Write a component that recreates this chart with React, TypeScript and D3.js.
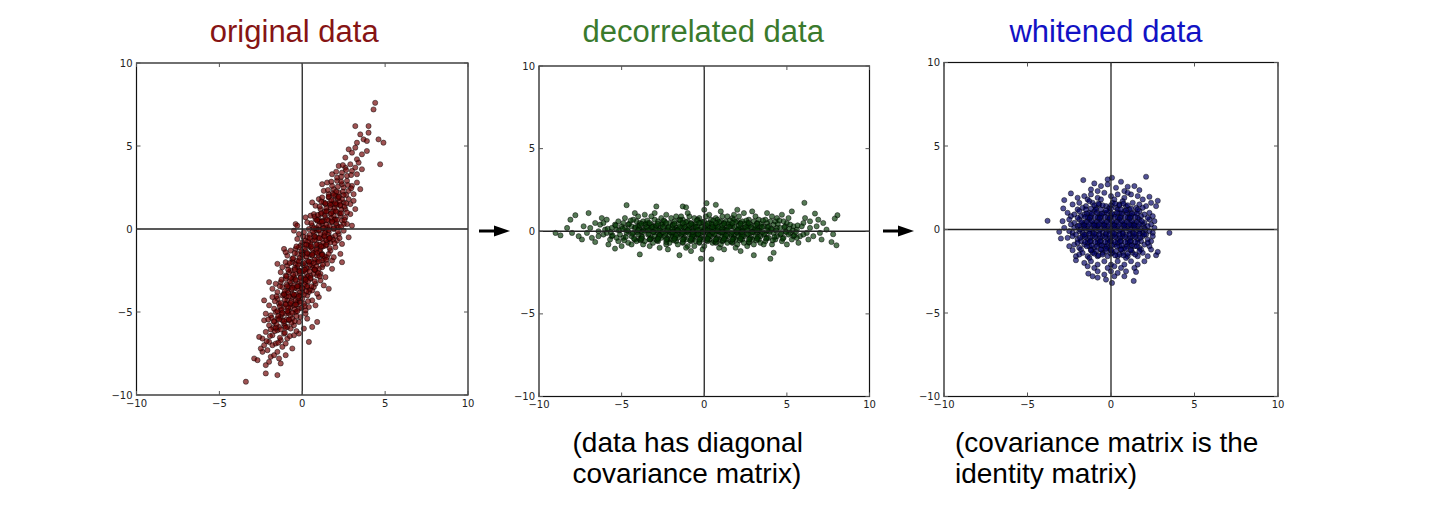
import React from 'react';
import * as d3 from 'd3';

// tick values shared by all three panels
const axisTicks = [-10, -5, 0, 5, 10];

const originalPoints: [number, number][] = [
  [-3.4,-9.2],[-2.2,-8.7],[-1.5,-8.8],[-1.3,-8.1],[-2.2,-8.2],[-2.9,-7.8],[-2.7,-7.9],[-2.4,-7.4],[-2.1,-7.3],[-1.9,-7.7],
  [-1.7,-7.6],[-1.5,-7.4],[-1.2,-7.1],[-2.5,-7.2],[-1.8,-7.0],[-0.6,-7.2],[-1.0,-7.6],[-2.3,-7.0],[-1.4,-7.8],[-2.0,-8.0],
  [-2.4,-6.6],[-2.0,-6.8],[-1.6,-6.9],[-1.3,-6.7],[-0.9,-6.6],[-0.5,-6.4],[-2.2,-6.2],[-1.8,-6.4],[-1.5,-6.1],[-1.1,-6.3],
  [-0.7,-6.0],[-0.2,-6.3],[0.4,-6.8],[-2.6,-6.5],[-1.0,-6.9],[0.1,-6.0],
  [-2.3,-5.5],[-2.0,-5.8],[-1.7,-5.6],[-1.4,-5.9],[-1.1,-5.7],[-0.8,-5.5],[-0.5,-5.8],[-0.2,-5.6],[0.3,-5.4],[0.6,-5.9],
  [-1.9,-5.2],[-1.6,-5.0],[-1.3,-5.3],[-1.0,-5.1],[-0.7,-5.2],[-0.4,-5.0],[-0.1,-5.3],[0.2,-5.1],[-2.2,-5.1],[-1.2,-5.5],
  [-0.6,-5.4],[0.9,-5.6],[-0.9,-5.9],[-1.5,-5.4],
  [-2.0,-4.6],[-1.7,-4.8],[-1.4,-4.5],[-1.1,-4.7],[-0.8,-4.9],[-0.5,-4.6],[-0.2,-4.8],[0.1,-4.5],[0.4,-4.7],[-1.5,-4.2],
  [-1.2,-4.0],[-0.9,-4.3],[-0.6,-4.1],[-0.3,-4.4],[0.0,-4.2],[0.3,-4.0],[0.6,-4.3],[-1.8,-4.1],[-1.0,-4.5],[-0.4,-4.3],
  [-0.7,-4.7],[-0.1,-4.0],[0.8,-4.6],[-2.3,-4.3],[-1.3,-4.9],[0.2,-4.9],[1.0,-4.1],[-0.5,-4.0],
  [-1.8,-3.6],[-1.5,-3.8],[-1.2,-3.5],[-0.9,-3.7],[-0.6,-3.9],[-0.3,-3.6],[0.0,-3.8],[0.3,-3.5],[0.6,-3.7],[0.9,-3.9],
  [-1.3,-3.2],[-1.0,-3.0],[-0.7,-3.3],[-0.4,-3.1],[-0.1,-3.4],[0.2,-3.2],[0.5,-3.0],[0.8,-3.3],[1.1,-3.1],[-1.6,-3.3],
  [-0.8,-3.5],[-0.2,-3.3],[0.4,-3.8],[-0.5,-3.4],[0.1,-3.0],[0.7,-3.5],[-1.1,-3.9],[1.3,-3.4],[-2.0,-3.2],[0.0,-3.6],
  [-0.6,-3.0],[1.6,-3.6],
  [-1.3,-2.6],[-1.0,-2.8],[-0.7,-2.5],[-0.4,-2.7],[-0.1,-2.9],[0.2,-2.6],[0.5,-2.8],[0.8,-2.5],[1.1,-2.7],[1.4,-2.9],
  [-0.9,-2.2],[-0.6,-2.0],[-0.3,-2.3],[0.0,-2.1],[0.3,-2.4],[0.6,-2.2],[0.9,-2.0],[1.2,-2.3],[1.5,-2.1],[-1.2,-2.3],
  [-0.2,-2.5],[0.4,-2.0],[0.7,-2.7],[0.1,-2.2],[-0.5,-2.9],[1.0,-2.4],[-0.8,-2.6],[0.3,-2.9],[1.8,-2.4],[-1.5,-2.1],
  [2.4,-2.0],[-0.4,-2.1],[0.9,-2.8],[0.0,-2.5],
  [-0.9,-1.6],[-0.6,-1.8],[-0.3,-1.5],[0.0,-1.7],[0.3,-1.9],[0.6,-1.6],[0.9,-1.8],[1.2,-1.5],[1.5,-1.7],[1.8,-1.9],
  [-0.4,-1.2],[-0.1,-1.0],[0.2,-1.3],[0.5,-1.1],[0.8,-1.4],[1.1,-1.2],[1.4,-1.0],[1.7,-1.3],[2.0,-1.1],[-0.7,-1.3],
  [0.3,-1.5],[0.9,-1.1],[1.3,-1.8],[0.6,-1.2],[0.0,-1.4],[1.6,-1.5],[-0.3,-1.9],[1.0,-1.6],[2.3,-1.5],[-1.1,-1.2],
  [0.4,-1.0],[1.9,-1.7],[-0.2,-1.1],[1.2,-1.9],[-1.0,-1.4],[-1.0,-2.0],
  [-0.3,-0.6],[0.0,-0.8],[0.3,-0.5],[0.6,-0.7],[0.9,-0.9],[1.2,-0.6],[1.5,-0.8],[1.8,-0.5],[2.1,-0.7],[2.4,-0.9],
  [0.1,-0.2],[0.4,0.0],[0.7,-0.3],[1.0,-0.1],[1.3,-0.4],[1.6,-0.2],[1.9,0.0],[2.2,-0.3],[2.5,-0.1],[-0.2,-0.3],
  [0.8,-0.5],[1.4,-0.1],[1.7,-0.8],[1.1,-0.3],[0.5,-0.9],[2.0,-0.4],[-0.5,-0.1],[2.8,-0.5],[0.2,-0.7],[1.6,-0.6],
  [-0.4,0.3],[-0.3,0.2],
  [0.3,0.4],[0.6,0.2],[0.9,0.5],[1.2,0.3],[1.5,0.1],[1.8,0.4],[2.1,0.2],[2.4,0.5],[2.7,0.3],[0.5,0.8],
  [0.8,0.6],[1.1,0.9],[1.4,0.7],[1.7,0.9],[2.0,0.6],[2.3,0.8],[2.6,0.7],[2.9,0.9],[1.0,0.2],[1.6,0.5],
  [2.2,0.1],[0.7,0.9],[1.3,0.5],[1.9,0.8],[3.0,0.2],[0.2,0.7],[2.5,0.3],[1.0,0.6],
  [0.8,1.4],[1.1,1.2],[1.4,1.5],[1.7,1.3],[2.0,1.1],[2.3,1.4],[2.6,1.2],[2.9,1.5],[1.0,1.8],[1.3,1.6],
  [1.6,1.9],[1.9,1.7],[2.2,1.9],[2.5,1.6],[2.8,1.8],[3.1,1.7],[1.5,1.1],[2.1,1.5],[2.7,1.0],[1.2,1.9],
  [3.2,1.2],[0.6,1.6],[2.4,1.8],[1.8,1.5],
  [1.3,2.3],[1.6,2.1],[1.9,2.4],[2.2,2.2],[2.5,2.5],[2.8,2.3],[3.1,2.1],[1.5,2.8],[1.8,2.6],[2.1,2.9],
  [2.4,2.7],[2.7,2.9],[3.0,2.6],[3.3,2.8],[2.0,2.0],[1.2,2.7],[3.5,2.4],
  [1.8,3.3],[2.1,3.1],[2.4,3.4],[2.7,3.2],[3.0,3.5],[3.3,3.3],[2.2,3.8],[2.6,3.7],[2.9,3.9],[3.2,3.7],[3.6,3.6],
  [2.6,4.3],[3.0,4.6],[3.3,4.2],[2.8,4.8],[3.6,4.5],[3.2,4.9],[3.9,4.7],[4.7,3.9],[3.4,4.0],
  [3.5,5.7],[4.0,5.8],[3.7,5.4],[3.9,5.3],[4.6,5.4],[4.9,5.2],[3.3,5.2],
  [3.2,6.2],[4.0,6.2],[4.3,7.2],[4.4,7.6],
  // dense middle of the cloud
  [-1.95,-6.45],[-1.65,-6.15],[-1.35,-6.55],[-1.05,-6.25],[-0.75,-6.45],[-1.45,-6.85],[-2.15,-6.75],[-0.35,-6.15],
  [-1.85,-5.35],[-1.55,-5.75],[-1.25,-5.15],[-0.95,-5.45],[-0.65,-5.65],[-0.35,-5.25],[-1.75,-5.95],[-1.05,-5.85],
  [-0.45,-5.55],[-2.05,-5.45],[-1.45,-5.25],[-0.85,-5.05],
  [-1.65,-4.35],[-1.35,-4.65],[-1.05,-4.25],[-0.75,-4.55],[-0.45,-4.85],[-0.15,-4.35],[0.15,-4.65],[-1.25,-4.85],
  [-0.95,-4.05],[-0.65,-4.35],[-0.35,-4.55],[-0.05,-4.75],[0.35,-4.35],[-1.55,-4.05],[-0.85,-4.75],[-0.25,-4.15],
  [-1.35,-3.45],[-1.05,-3.75],[-0.75,-3.15],[-0.45,-3.55],[-0.15,-3.85],[0.15,-3.35],[0.45,-3.65],[0.75,-3.15],
  [-1.25,-3.05],[-0.95,-3.35],[-0.65,-3.65],[-0.35,-3.95],[-0.05,-3.15],[0.25,-3.75],[0.55,-3.45],[-0.85,-3.85],
  [-0.25,-3.45],[0.35,-3.15],
  [-0.85,-2.45],[-0.55,-2.75],[-0.25,-2.15],[0.05,-2.55],[0.35,-2.85],[0.65,-2.35],[0.95,-2.65],[1.25,-2.15],
  [-0.75,-2.05],[-0.45,-2.35],[-0.15,-2.65],[0.15,-2.95],[0.45,-2.15],[0.75,-2.45],[1.05,-2.85],[-0.95,-2.85],
  [0.25,-2.35],[0.85,-2.25],
  [-0.45,-1.45],[-0.15,-1.75],[0.15,-1.15],[0.45,-1.55],[0.75,-1.85],[1.05,-1.35],[1.35,-1.65],[1.65,-1.15],
  [-0.35,-1.05],[-0.05,-1.35],[0.25,-1.65],[0.55,-1.95],[0.85,-1.25],[1.15,-1.55],[1.45,-1.85],[-0.55,-1.75],
  [0.65,-1.45],[1.25,-1.05],
  [0.05,-0.45],[0.35,-0.75],[0.65,-0.15],[0.95,-0.55],[1.25,-0.85],[1.55,-0.35],[1.85,-0.65],[2.15,-0.15],
  [0.15,-0.95],[0.45,-0.35],[0.75,-0.65],[1.05,-0.95],[1.35,-0.25],[1.65,-0.55],[1.95,-0.85],[2.25,-0.55],
  [0.85,-0.05],[1.45,-0.65],
  [0.55,0.35],[0.85,0.05],[1.15,0.45],[1.45,0.25],[1.75,0.65],[2.05,0.35],[2.35,0.15],[0.75,0.75],
  [1.05,0.45],[1.35,0.85],[1.65,0.15],[1.95,0.55],[2.25,0.95],[2.55,0.55],[1.25,0.05],[0.95,0.85],
  [1.05,1.35],[1.35,1.05],[1.65,1.55],[1.95,1.25],[2.25,1.65],[2.55,1.35],[1.15,1.65],[1.45,1.25],
  [1.75,1.75],[2.05,1.45],[2.35,1.15],[2.65,1.55],[1.85,1.05],[2.15,1.85],
  [1.55,2.35],[1.85,2.15],[2.15,2.55],[2.45,2.25],[2.75,2.65],[1.75,2.85],[2.05,2.25],[2.35,2.85],[2.65,2.05],[2.95,2.45],
  [2.05,3.45],[2.35,3.15],[2.65,3.55],[2.95,3.25],[2.45,3.85],
  // solid core along the main axis
  [-1.9,-6.05],[-1.6,-5.95],[-1.3,-6.05],[-1.0,-5.95],[-1.7,-5.55],[-1.4,-5.45],[-1.1,-5.55],[-0.8,-5.45],
  [-1.5,-4.95],[-1.2,-5.05],[-0.9,-4.95],[-0.6,-5.05],[-0.3,-4.95],
  [-1.3,-4.45],[-1.0,-4.55],[-0.7,-4.45],[-0.4,-4.55],[-0.1,-4.45],
  [-1.1,-3.95],[-0.8,-4.05],[-0.5,-3.95],[-0.2,-4.05],[0.1,-3.95],
  [-0.9,-3.45],[-0.6,-3.55],[-0.3,-3.45],[0.0,-3.55],[0.3,-3.45],
  [-0.7,-2.95],[-0.4,-3.05],[-0.1,-2.95],[0.2,-3.05],[0.5,-2.95],
  [-0.45,-2.45],[-0.15,-2.55],[0.15,-2.45],[0.45,-2.55],[0.75,-2.45],
  [-0.2,-1.95],[0.1,-2.05],[0.4,-1.95],[0.7,-2.05],[1.0,-1.95],
  [0.0,-1.55],[0.3,-1.45],[0.6,-1.55],[0.9,-1.45],[1.2,-1.55],
  [0.25,-0.95],[0.55,-1.05],[0.85,-0.95],[1.15,-1.05],[1.45,-0.95],
  [0.45,-0.55],[0.75,-0.45],[1.05,-0.55],[1.35,-0.45],[1.65,-0.55],
  [0.7,0.05],[1.0,-0.05],[1.3,0.05],[1.6,-0.05],[1.9,0.05],
  [0.9,0.55],[1.2,0.45],[1.5,0.55],[1.8,0.45],[2.1,0.55],
  [1.15,0.95],[1.45,1.05],[1.75,0.95],[2.05,1.05],[2.35,0.95],
  [1.4,1.55],[1.7,1.45],[2.0,1.55],[2.3,1.45],[1.6,1.95],[1.9,2.05],[2.2,1.95],[2.5,2.05],
];

const decorrelatedPoints: [number, number][] = [
  [-9.0,-0.1],[-8.7,-0.25],
  [-8.1,0.7],[-7.8,0.97],[-8.3,0.2],[-7.6,-0.3],[-8.0,-0.1],
  [-7.0,1.1],[-7.3,0.3],[-6.8,-0.4],[-7.1,-0.1],[-6.6,0.5],[-7.4,-0.5],[-6.9,0.2],[-6.6,-0.65],
  [-6.3,0.4],[-6.1,-0.2],[-5.9,0.7],[-5.7,-0.5],[-6.4,-0.3],[-6.0,0.1],[-5.8,-0.8],[-6.2,0.8],[-5.6,0.2],[-6.4,0.0],
  [-5.9,-0.1],[-5.6,-0.3],[-6.1,0.5],
  [-5.4,-1.05],[-5.2,0.6],[-4.9,-0.4],[-5.3,0.1],[-4.7,1.58],[-5.0,0.3],[-4.6,-0.7],[-5.1,-0.2],[-4.8,0.8],[-5.4,0.4],
  [-4.6,0.0],[-5.2,-0.6],[-4.9,0.5],[-4.7,-0.1],[-5.3,-0.4],[-4.8,0.2],[-5.0,-0.9],[-4.6,0.4],
  [-4.4,0.3],[-4.2,-0.5],[-3.9,-1.4],[-4.0,0.9],[-3.7,0.1],[-4.3,-0.1],[-3.6,-0.6],[-4.1,0.6],[-3.8,-0.3],[-4.4,-0.8],
  [-3.6,0.4],[-4.2,0.2],[-3.9,0.5],[-4.0,-0.2],[-3.7,-0.8],[-4.3,0.7],[-3.8,0.0],[-4.1,-0.6],[-3.6,1.0],[-4.4,-0.3],
  [-3.9,-0.5],[-4.2,1.1],[-3.7,0.6],[-4.0,0.3],
  [-3.4,0.2],[-3.2,-0.4],[-2.9,1.5],[-3.0,0.7],[-2.7,-0.2],[-3.3,-0.9],[-2.6,0.4],[-3.1,0.0],[-2.8,-0.6],[-3.4,0.5],
  [-2.6,-0.1],[-3.2,0.9],[-2.9,0.3],[-3.0,-0.3],[-2.7,-1.0],[-3.3,0.1],[-2.8,0.6],[-3.1,-0.7],[-2.6,0.8],[-3.4,-0.2],
  [-2.9,-0.5],[-3.2,0.4],[-2.7,0.1],[-3.0,1.1],[-3.3,-0.5],[-2.8,-0.1],[-3.1,0.3],[-2.6,-0.4],
  [-2.4,0.3],[-2.2,-0.5],[-2.0,0.8],[-1.8,-0.2],[-1.6,0.1],[-2.3,-0.8],[-2.1,0.5],[-1.9,0.0],[-1.7,-0.6],[-1.5,-1.45],
  [-2.4,-0.3],[-2.2,0.2],[-2.0,-0.1],[-1.8,0.6],[-1.6,-0.4],[-2.3,1.0],[-2.1,-0.2],[-1.9,0.4],[-1.7,0.2],[-1.5,0.7],
  [-2.4,0.6],[-2.2,-1.1],[-2.0,-0.5],[-1.8,0.1],[-1.6,-0.8],[-2.3,0.0],[-2.1,-0.7],[-1.9,-0.3],[-1.7,0.9],[-1.5,-0.1],
  [-1.3,1.5],[-1.1,1.45],
  [-1.4,0.2],[-1.2,-0.4],[-1.0,0.6],[-0.8,-0.1],[-0.6,0.3],[-1.3,-0.7],[-1.1,0.0],[-0.9,0.9],[-0.7,-0.5],[-0.5,0.1],
  [-1.4,-0.2],[-1.2,0.4],[-1.0,-0.9],[-0.8,0.5],[-0.6,-0.3],[-1.3,0.7],[-1.1,-0.5],[-0.9,0.2],[-0.7,0.0],[-0.5,-0.6],
  [-1.4,0.9],[-1.2,-0.1],[-1.0,0.1],[-0.8,-0.6],[-0.6,0.8],[-1.3,0.3],[-1.1,-1.0],[-0.9,-0.2],[-0.7,0.4],[-0.5,-0.2],
  [-1.0,1.1],[-0.8,-1.2],[-1.2,0.0],[-0.6,-0.9],
  [-0.4,0.3],[-0.2,-0.4],[0.0,0.6],[0.2,-0.1],[0.4,0.2],[-0.3,-0.7],[-0.1,0.0],[0.1,0.9],[0.3,-0.5],[0.5,0.4],
  [-0.4,-0.2],[-0.2,0.5],[0.0,-0.9],[0.2,0.3],[0.4,-0.3],[-0.3,0.8],[-0.1,-0.5],[0.1,0.1],[0.3,0.0],[0.5,-0.7],
  [-0.4,0.7],[-0.2,-0.1],[0.0,0.2],[0.2,-0.6],[0.4,0.7],[-0.3,0.1],[-0.1,-1.1],[0.1,-0.3],[0.3,0.5],[0.5,-0.1],
  [0.14,1.7],[0.0,1.3],[-0.2,-1.66],[0.44,-1.7],[0.3,1.0],
  [0.6,0.2],[0.8,-0.4],[1.0,0.6],[1.2,-0.1],[1.4,0.3],[0.7,-0.7],[0.9,0.0],[1.1,0.9],[1.3,-0.5],[0.6,0.1],
  [0.8,0.4],[1.0,-0.8],[1.2,0.5],[1.4,-0.3],[0.7,0.8],[0.9,-0.5],[1.1,0.2],[1.3,0.0],[0.6,-0.6],[0.8,0.7],
  [1.0,-0.1],[1.2,0.1],[1.4,-0.7],[0.7,0.3],[0.9,-1.0],[1.1,-0.3],[1.3,0.6],[0.6,-0.2],[0.7,1.6],[1.0,1.2],
  [1.2,-1.1],[0.8,0.0],[1.4,0.9],[1.1,-0.6],
  [1.6,0.3],[1.8,-0.4],[2.0,0.6],[2.2,-0.1],[2.4,0.2],[1.7,-0.7],[1.9,0.0],[2.1,0.9],[2.3,-0.5],[1.6,0.4],
  [1.8,-0.2],[2.0,-0.8],[2.2,0.5],[2.4,-0.3],[1.7,0.8],[1.9,-0.5],[2.1,0.1],[2.3,0.0],[1.6,-0.6],[1.8,0.7],
  [2.0,-0.1],[2.2,0.2],[2.4,-0.7],[1.7,0.3],[1.9,-1.0],[2.1,-0.3],[2.3,0.6],[1.6,-0.2],[2.0,1.3],[1.8,1.0],
  [2.2,-1.2],[2.4,1.1],
  [2.6,0.2],[2.8,-0.4],[3.0,0.6],[3.2,-0.1],[3.4,0.3],[2.7,-0.7],[2.9,0.0],[3.1,0.9],[3.3,-0.5],[2.6,-0.2],
  [2.8,0.4],[3.0,-0.8],[3.2,0.5],[3.4,-0.3],[2.7,0.7],[2.9,-0.5],[3.1,0.1],[3.3,0.0],[2.6,0.5],[2.8,-0.1],
  [3.0,-1.45],[3.2,0.2],[3.4,-0.7],[2.7,0.3],[2.9,1.2],[3.1,-0.3],[3.3,0.7],[2.6,-0.9],
  [3.6,0.3],[3.8,-0.4],[4.0,0.6],[4.2,-0.1],[4.4,0.2],[3.7,-0.6],[3.9,0.0],[4.1,0.9],[4.3,-0.5],[3.6,-0.2],
  [3.8,0.5],[4.0,-1.66],[4.2,0.4],[4.4,-0.3],[3.7,0.7],[3.9,-0.4],[4.1,0.1],[4.3,0.6],[3.6,-0.8],[3.8,1.1],
  [4.2,-1.3],[4.4,0.8],[3.9,0.3],[4.1,-0.8],
  [4.6,0.2],[4.8,-0.4],[5.0,0.5],[5.2,-0.1],[5.4,0.3],[4.7,-0.6],[4.9,0.0],[5.1,0.8],[5.3,-0.5],[4.6,-0.2],
  [4.8,0.6],[5.0,-0.8],[5.2,0.4],[5.4,-0.3],[4.7,1.0],[5.1,-0.2],[4.9,0.3],[5.3,1.2],
  [5.6,0.1],[5.8,-0.3],[6.0,0.5],[6.2,-0.1],[6.4,0.2],[5.7,-0.7],[6.06,1.72],[6.1,0.8],[6.3,-0.5],[5.9,0.3],
  [5.6,-0.4],[6.4,0.6],[6.0,-0.2],
  [6.7,1.07],[7.1,-0.5],[6.8,0.3],[7.0,-0.1],[7.2,0.5],[6.6,-0.3],[7.4,0.1],[6.9,0.7],
  [8.06,0.97],[7.9,0.77],[7.8,-0.18],[7.7,-0.65],[8.0,-0.85],
  // dense middle of the band
  [-5.85,0.15],[-5.55,-0.25],[-5.35,0.35],[-5.15,0.05],[-5.65,-0.05],
  [-4.95,0.15],[-4.75,-0.35],[-4.55,0.45],[-4.35,-0.15],[-4.15,0.25],[-4.85,-0.55],[-4.65,0.05],[-4.45,0.65],[-4.25,-0.45],[-4.05,-0.05],
  [-3.95,0.15],[-3.75,-0.35],[-3.55,0.45],[-3.35,-0.15],[-3.15,0.25],[-3.85,-0.55],[-3.65,0.05],[-3.45,0.65],[-3.25,-0.45],[-3.05,-0.05],
  [-3.5,0.25],[-3.9,0.35],
  [-2.95,0.15],[-2.75,-0.35],[-2.55,0.45],[-2.35,-0.15],[-2.15,0.25],[-2.85,-0.55],[-2.65,0.05],[-2.45,0.65],[-2.25,-0.45],[-2.05,-0.05],
  [-2.5,0.25],[-2.9,0.35],[-2.3,-0.65],[-2.7,-0.25],
  [-1.95,0.15],[-1.75,-0.35],[-1.55,0.45],[-1.35,-0.15],[-1.15,0.25],[-1.85,-0.55],[-1.65,0.05],[-1.45,0.65],[-1.25,-0.45],[-1.05,-0.05],
  [-1.5,0.25],[-1.9,0.35],[-1.3,-0.65],[-1.7,-0.25],[-1.1,0.55],
  [-0.95,0.15],[-0.75,-0.35],[-0.55,0.45],[-0.35,-0.15],[-0.15,0.25],[-0.85,-0.55],[-0.65,0.05],[-0.45,0.65],[-0.25,-0.45],[-0.05,-0.05],
  [-0.5,0.25],[-0.9,0.35],[-0.3,-0.65],[-0.7,-0.25],[-0.1,0.55],
  [0.05,0.15],[0.25,-0.35],[0.45,0.45],[0.65,-0.15],[0.85,0.25],[0.15,-0.55],[0.35,0.05],[0.55,0.65],[0.75,-0.45],[0.95,-0.05],
  [0.5,0.25],[0.1,0.35],[0.7,-0.65],[0.3,-0.25],[0.9,0.55],
  [1.05,0.15],[1.25,-0.35],[1.45,0.45],[1.65,-0.15],[1.85,0.25],[1.15,-0.55],[1.35,0.05],[1.55,0.65],[1.75,-0.45],[1.95,-0.05],
  [1.5,0.25],[1.1,0.35],[1.7,-0.65],[1.3,-0.25],[1.9,0.55],
  [2.05,0.15],[2.25,-0.35],[2.45,0.45],[2.65,-0.15],[2.85,0.25],[2.15,-0.55],[2.35,0.05],[2.55,0.65],[2.75,-0.45],[2.95,-0.05],
  [2.5,0.25],[2.1,0.35],[2.7,-0.65],[2.3,-0.25],
  [3.05,0.15],[3.25,-0.35],[3.45,0.45],[3.65,-0.15],[3.85,0.25],[3.15,-0.55],[3.35,0.05],[3.55,0.65],[3.75,-0.45],[3.95,-0.05],
  [3.5,0.25],[3.1,0.35],
  [4.05,0.15],[4.25,-0.35],[4.45,0.45],[4.65,-0.15],[4.85,0.25],[4.15,-0.55],[4.35,0.05],[4.55,0.65],[4.75,-0.45],[4.95,-0.05],
  [5.15,0.15],[5.45,-0.25],[5.65,0.35],[5.35,0.05],[5.55,-0.05],
  // solid core on the x axis
  [-4.0,0.05],[-3.7,-0.05],[-3.4,0.05],[-3.1,-0.05],[-2.8,0.05],[-2.5,-0.05],[-2.2,0.05],[-1.9,-0.05],[-1.6,0.05],
  [-1.3,-0.05],[-1.0,0.05],[-0.7,-0.05],[-0.4,0.05],[-0.1,-0.05],[0.2,0.05],[0.5,-0.05],[0.8,0.05],[1.1,-0.05],
  [1.4,0.05],[1.7,-0.05],[2.0,0.05],[2.3,-0.05],[2.6,0.05],[2.9,-0.05],[3.2,0.05],[3.5,-0.05],[3.8,0.05],
  [-3.8,0.45],[-3.3,0.5],[-2.8,0.45],[-2.3,0.5],[-1.8,0.45],[-1.3,0.5],[-0.8,0.45],[-0.3,0.5],[0.2,0.45],
  [0.7,0.5],[1.2,0.45],[1.7,0.5],[2.2,0.45],[2.7,0.5],[3.2,0.45],
  [-3.8,-0.45],[-3.3,-0.5],[-2.8,-0.45],[-2.3,-0.5],[-1.8,-0.45],[-1.3,-0.5],[-0.8,-0.45],[-0.3,-0.5],[0.2,-0.45],
  [0.7,-0.5],[1.2,-0.45],[1.7,-0.5],[2.2,-0.45],[2.7,-0.5],[3.2,-0.45],
];

const whitenedPoints: [number, number][] = [
  [0.06,3.1],[2.1,3.16],[-1.66,2.96],[0.6,2.86],[-0.2,3.0],
  [-1.0,2.76],[-0.6,2.6],[1.0,2.56],[1.7,2.36],[0.3,2.5],[-0.2,2.7],[0.8,2.3],[-1.2,2.4],[-0.8,2.3],[1.4,2.6],
  [-2.4,2.16],[2.3,1.96],[-1.6,2.0],[-1.2,2.1],[-0.8,1.9],[-0.4,2.2],[0.0,2.0],[0.4,2.1],[0.8,1.9],[1.2,2.1],
  [1.6,2.0],[-2.0,1.9],[-0.6,1.8],[0.2,1.8],[1.0,2.2],[1.9,1.8],[-1.4,1.8],
  [-2.8,1.76],[2.8,1.72],[2.7,1.4],[-2.86,1.26],[-2.3,1.5],[-1.9,1.6],[-1.5,1.4],[-1.1,1.6],[-0.7,1.5],[-0.3,1.4],
  [0.1,1.6],[0.5,1.5],[0.9,1.4],[1.3,1.6],[1.7,1.5],[2.1,1.4],[2.4,1.6],[-1.7,1.3],[-0.9,1.3],[-0.1,1.3],
  [0.7,1.7],[1.5,1.3],[-2.0,1.2],[0.3,1.3],[1.1,1.2],[1.9,1.3],[-1.3,1.7],
  [-2.6,1.0],[-2.2,0.9],[-1.9,1.1],[-1.6,0.9],[-1.3,1.0],[-1.0,1.1],[-0.7,0.9],[-0.4,1.0],[-0.1,1.1],[0.2,0.9],
  [0.5,1.0],[0.8,1.1],[1.1,0.9],[1.4,1.0],[1.7,1.1],[2.0,0.9],[2.3,1.0],[-1.8,0.8],[-1.2,0.8],[-0.6,0.8],
  [0.0,0.8],[0.6,0.8],[1.2,0.8],[1.8,0.8],[-2.4,0.8],[2.5,0.8],[-0.9,1.2],[0.4,1.2],[1.6,1.2],[-1.5,1.2],
  [-3.8,0.52],[-2.9,0.5],[-2.5,0.6],[-2.2,0.4],[-1.9,0.6],[-1.6,0.4],[-1.3,0.6],[-1.0,0.4],[-0.7,0.6],[-0.4,0.4],
  [-0.1,0.6],[0.2,0.4],[0.5,0.6],[0.8,0.4],[1.1,0.6],[1.4,0.4],[1.7,0.6],[2.0,0.4],[2.3,0.6],[2.6,0.5],
  [-2.0,0.7],[-1.4,0.7],[-0.8,0.7],[-0.2,0.7],[0.4,0.7],[1.0,0.7],[1.6,0.7],[2.2,0.7],[-1.7,0.3],[-1.1,0.3],
  [-0.5,0.3],[0.1,0.3],[0.7,0.3],[1.3,0.3],[1.9,0.3],[2.4,0.3],[-2.4,0.3],
  [-3.1,-0.14],[3.5,-0.2],[-2.8,0.1],[-2.5,-0.1],[-2.2,0.1],[-1.9,-0.1],[-1.6,0.1],[-1.3,-0.1],[-1.0,0.1],[-0.7,-0.1],
  [-0.4,0.1],[-0.1,-0.1],[0.2,0.1],[0.5,-0.1],[0.8,0.1],[1.1,-0.1],[1.4,0.1],[1.7,-0.1],[2.0,0.1],[2.3,-0.1],
  [2.6,0.1],[-2.0,0.2],[-1.4,0.2],[-0.8,0.2],[-0.2,0.2],[0.4,0.2],[1.0,0.2],[1.6,0.2],[2.2,0.2],[-1.7,-0.2],
  [-1.1,-0.2],[-0.5,-0.2],[0.1,-0.2],[0.7,-0.2],[1.3,-0.2],[1.9,-0.2],[2.5,-0.2],[-2.3,-0.2],
  [-3.0,-0.54],[-2.6,-0.5],[-2.3,-0.4],[-2.0,-0.6],[-1.7,-0.4],[-1.4,-0.6],[-1.1,-0.4],[-0.8,-0.6],[-0.5,-0.4],[-0.2,-0.6],
  [0.1,-0.4],[0.4,-0.6],[0.7,-0.4],[1.0,-0.6],[1.3,-0.4],[1.6,-0.6],[1.9,-0.4],[2.2,-0.6],[2.5,-0.4],[-1.8,-0.7],
  [-1.2,-0.7],[-0.6,-0.7],[0.0,-0.7],[0.6,-0.7],[1.2,-0.7],[1.8,-0.7],[2.4,-0.7],[-2.1,-0.3],[-1.5,-0.3],[-0.9,-0.3],
  [-0.3,-0.3],[0.3,-0.3],[0.9,-0.3],[1.5,-0.3],[2.1,-0.3],
  [-2.5,-1.0],[-2.2,-0.9],[-1.9,-1.1],[-1.6,-0.9],[-1.3,-1.0],[-1.0,-1.1],[-0.7,-0.9],[-0.4,-1.0],[-0.1,-1.1],[0.2,-0.9],
  [0.5,-1.0],[0.8,-1.1],[1.1,-0.9],[1.4,-1.0],[1.7,-1.1],[2.0,-0.9],[2.3,-1.0],[-1.8,-1.2],[-1.2,-1.2],[-0.6,-1.2],
  [0.0,-1.2],[0.6,-1.2],[1.2,-1.2],[1.8,-1.2],[-2.0,-0.8],[-1.4,-0.8],[-0.8,-0.8],[-0.2,-0.8],[0.4,-0.8],[1.0,-0.8],
  [1.6,-0.8],[2.2,-0.8],
  [2.7,-1.54],[2.8,-1.34],[-2.3,-1.24],[-2.1,-1.6],[-1.7,-1.4],[-1.4,-1.6],[-1.1,-1.4],[-0.8,-1.6],[-0.5,-1.4],[-0.2,-1.6],
  [0.1,-1.4],[0.4,-1.6],[0.7,-1.4],[1.0,-1.6],[1.3,-1.4],[1.6,-1.6],[1.9,-1.4],[2.2,-1.6],[-1.9,-1.5],[-1.3,-1.7],
  [-0.3,-1.3],[0.9,-1.7],[1.7,-1.3],[-0.9,-1.3],[0.3,-1.3],[2.4,-1.2],
  [-2.1,-1.84],[-1.6,-2.0],[-1.2,-1.9],[-0.8,-2.1],[-0.4,-1.9],[0.0,-2.1],[0.4,-1.9],[0.8,-2.1],[1.2,-1.9],[1.6,-2.1],
  [2.0,-1.9],[-1.0,-2.3],[-0.2,-2.3],[0.6,-2.3],[1.4,-2.3],[-1.4,-2.2],[0.2,-2.2],
  [-1.36,-2.64],[1.5,-2.54],[-0.8,-2.5],[-0.4,-2.7],[0.0,-2.5],[0.4,-2.6],[0.9,-2.5],[-1.1,-2.8],[0.2,-2.8],
  [0.06,-3.2],[1.36,-3.08],[0.8,-2.8],[-0.8,-2.88],[-0.3,-3.0],
  // dense middle of the disc
  [-1.75,0.45],[-1.45,0.45],[-1.15,0.5],[-0.85,0.45],[-0.55,0.5],[-0.25,0.45],[0.05,0.5],[0.35,0.45],[0.65,0.5],[0.95,0.45],
  [1.25,0.5],[1.55,0.45],[1.85,0.5],
  [-1.85,0.0],[-1.55,0.05],[-1.25,0.0],[-0.95,0.05],[-0.65,0.0],[-0.35,0.05],[-0.05,0.0],[0.25,0.05],[0.55,0.0],[0.85,0.05],
  [1.15,0.0],[1.45,0.05],[1.75,0.0],[2.05,0.0],
  [-1.85,-0.5],[-1.55,-0.45],[-1.25,-0.5],[-0.95,-0.45],[-0.65,-0.5],[-0.35,-0.45],[-0.05,-0.5],[0.25,-0.45],[0.55,-0.5],[0.85,-0.45],
  [1.15,-0.5],[1.45,-0.45],[1.75,-0.5],
  [-1.45,0.95],[-1.15,0.95],[-0.85,1.0],[-0.55,0.95],[-0.25,1.0],[0.05,0.95],[0.35,1.0],[0.65,0.95],[0.95,1.0],[1.25,0.95],[1.55,0.95],
  [-1.45,-1.0],[-1.15,-0.95],[-0.85,-1.0],[-0.55,-0.95],[-0.25,-1.0],[0.05,-0.95],[0.35,-1.0],[0.65,-0.95],[0.95,-1.0],[1.25,-0.95],[1.55,-1.0],
  [-1.0,1.45],[-0.5,1.45],[0.0,1.45],[0.5,1.45],[1.0,1.45],[-0.75,1.55],[0.25,1.55],[0.75,1.55],
  [-1.0,-1.45],[-0.5,-1.5],[0.0,-1.45],[0.5,-1.5],[1.0,-1.45],[-0.75,-1.55],[0.25,-1.55],[0.75,-1.55],[1.45,-1.5],
  [-0.8,0.25],[0.2,0.25],[1.2,0.25],[-0.3,-0.25],[0.7,-0.25],[-1.3,-0.25],[1.7,-0.25],[-1.9,0.25],
  // solid core of the disc
  [-1.6,0.25],[-1.3,0.3],[-1.0,0.25],[-0.7,0.3],[-0.4,0.25],[-0.1,0.3],[0.5,0.3],[0.8,0.25],[1.1,0.3],[1.4,0.25],[1.7,0.3],
  [-1.6,-0.3],[-1.0,-0.25],[-0.7,-0.3],[-0.1,-0.3],[0.2,-0.25],[0.5,-0.3],[1.1,-0.3],[1.4,-0.25],[2.0,-0.3],
  [-1.55,0.75],[-1.25,0.7],[-0.95,0.75],[-0.65,0.7],[-0.35,0.75],[-0.05,0.7],[0.25,0.75],[0.55,0.7],[0.85,0.75],[1.15,0.7],[1.45,0.75],
  [-1.55,-0.75],[-1.25,-0.7],[-0.95,-0.75],[-0.65,-0.7],[-0.35,-0.75],[-0.05,-0.7],[0.25,-0.75],[0.55,-0.7],[0.85,-0.75],[1.15,-0.7],[1.45,-0.75],
  [-1.2,1.25],[-0.6,1.2],[0.0,1.25],[0.6,1.2],[1.2,1.25],[-0.3,1.15],[0.9,1.15],
  [-1.2,-1.25],[-0.6,-1.2],[0.0,-1.25],[0.6,-1.2],[1.2,-1.25],[-0.3,-1.15],[0.9,-1.15],
];

const panels = [
  {
    key: 'original', title: 'original data', titleColor: '#861414', dot: '#700000', points: originalPoints,
    left: 136.5, top: 63, width: 331.5, height: 332, titleDx: -8, note: [] as string[], noteX: 0,
  },
  {
    key: 'decorrelated', title: 'decorrelated data', titleColor: '#3a7a2c', dot: '#053a05', points: decorrelatedPoints,
    left: 539, top: 66, width: 330.5, height: 330.5, titleDx: -1,
    note: ['(data has diagonal', 'covariance matrix)'], noteX: 572.5,
  },
  {
    key: 'whitened', title: 'whitened data', titleColor: '#1212c4', dot: '#000064', points: whitenedPoints,
    left: 944, top: 62.5, width: 334, height: 334, titleDx: -5,
    note: ['(covariance matrix is the', 'identity matrix)'], noteX: 955,
  },
];

const arrows = [
  { x1: 479, x2: 510, y: 231 },
  { x1: 883, x2: 914, y: 231 },
];

const tickFont = '"DejaVu Sans", sans-serif';
const textFont = '"Liberation Sans", Arial, sans-serif';
const fmt = d3.format('d');

function Panel({ p }: { p: (typeof panels)[number] }) {
  const x = d3.scaleLinear().domain([-10, 10]).range([p.left, p.left + p.width]);
  const y = d3.scaleLinear().domain([-10, 10]).range([p.top + p.height, p.top]);
  const bottom = p.top + p.height;
  const right = p.left + p.width;
  return (
    <g>
      <text x={x(0) + p.titleDx} y={42} textAnchor="middle" fontFamily={textFont} fontSize={31} fill={p.titleColor}>
        {p.title}
      </text>
      <g>
        {p.points.map(([px, py], i) => (
          <circle key={i} cx={x(px)} cy={y(py)} r={2.6} fill={p.dot} fillOpacity={0.68}
            stroke="#000" strokeOpacity={0.65} strokeWidth={0.7} />
        ))}
      </g>
      <line x1={x(0)} x2={x(0)} y1={p.top} y2={bottom} stroke="#222" strokeWidth={1.3} />
      <line x1={p.left} x2={right} y1={y(0)} y2={y(0)} stroke="#222" strokeWidth={1.3} />
      <rect x={p.left} y={p.top} width={p.width} height={p.height} fill="none" stroke="#111" strokeWidth={1.2} />
      {axisTicks.map(t => (
        <g key={'t' + t}>
          <line x1={x(t)} x2={x(t)} y1={bottom} y2={bottom - 4} stroke="#555" />
          <line x1={x(t)} x2={x(t)} y1={p.top} y2={p.top + 4} stroke="#555" />
          <line x1={p.left} x2={p.left + 4} y1={y(t)} y2={y(t)} stroke="#555" />
          <line x1={right} x2={right - 4} y1={y(t)} y2={y(t)} stroke="#555" />
          <text x={x(t)} y={bottom + 11.5} textAnchor="middle" fontFamily={tickFont} fontSize={10} fill="#222">
            {fmt(t)}
          </text>
          <text x={p.left - 4} y={y(t) + 3.5} textAnchor="end" fontFamily={tickFont} fontSize={10} fill="#222">
            {fmt(t)}
          </text>
        </g>
      ))}
      {p.note.map((line, i) => (
        <text key={i} x={p.noteX} y={451.5 + i * 31.5} fontFamily={textFont} fontSize={28} fill="#000">
          {line}
        </text>
      ))}
    </g>
  );
}

export default function App() {
  return (
    <svg width={1440} height={508} style={{ position: 'absolute', left: 0, top: 0, background: '#fff' }}>
      <rect width={1440} height={508} fill="#fff" />
      {panels.map(p => <Panel key={p.key} p={p} />)}
      {arrows.map((a, i) => (
        <g key={i}>
          <line x1={a.x1} x2={a.x2 - 12} y1={a.y} y2={a.y} stroke="#000" strokeWidth={3} />
          <path d={`M${a.x2 - 16},${a.y - 5.5} L${a.x2},${a.y} L${a.x2 - 16},${a.y + 5.5} Z`} fill="#000" />
        </g>
      ))}
    </svg>
  );
}
